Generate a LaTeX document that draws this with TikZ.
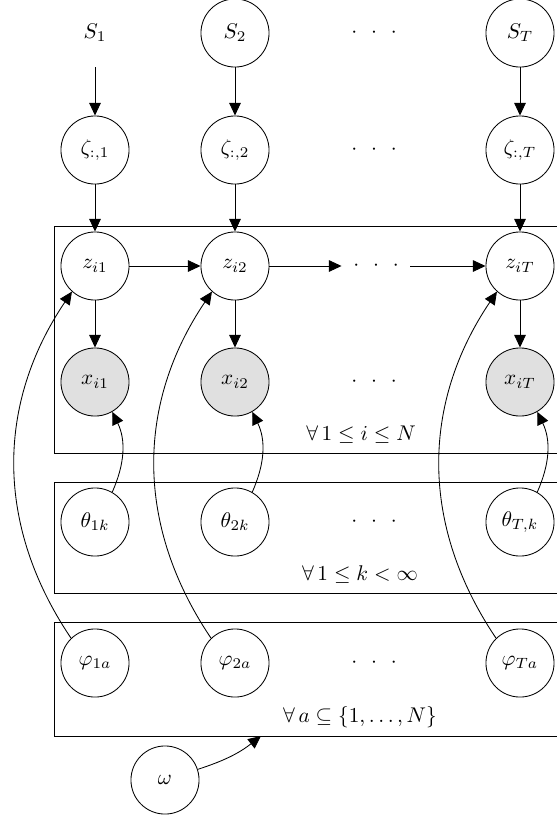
\documentclass[tikz,border=0pt]{standalone}
\usepackage{amsmath}
\usepackage{amssymb}
\usetikzlibrary{arrows.meta}
\definecolor{obsgray}{gray}{0.88}
\newcommand{\spreaddots}[0]{$\cdot\hspace{4.3pt}\cdot\hspace{4.3pt}\cdot$}

\begin{document}
\begin{tikzpicture}[x=0.47pt, y=-0.47pt,
        latent/.style={circle, draw, minimum size=32pt, inner sep=0pt},
        observed/.style={latent, fill=obsgray},
        hidden/.style={latent, draw=none},
        >={Triangle[length=6pt, width=5.5pt]},
    ]
    \useasboundingbox (0,0) rectangle (557,821);
    % Add plates
    \draw (54,226) rectangle (562,453);
    \draw (54,482) rectangle (562,593);
    \draw (54,622) rectangle (562,736);
    \node (ilabel) at (361,435) {$\forall\,1 \leq i \leq N$};
    \node (klabel) at (360,575) {$\forall\,1 \leq k < \infty$};
    \node (alabel) at (360,717) {$\forall\,a \subseteq \{1,\ldots,N\}$};
    \coordinate (atip) at (261,736);
    % Add nodes
    \node[hidden] (s1) at (95,33) {$S_1$};
    \node[latent] (s2) at (235,33) {$S_2$};
    \node[hidden] (sdots) at (374,33) {\spreaddots};
    \node[latent] (sT) at (520,33) {$S_T$};
    \node[latent] (zeta1) at (95,150) {$\zeta_{:,1}$};
    \node[latent] (zeta2) at (235,150) {$\zeta_{:,2}$};
    \node[hidden] (zetadots) at (374,150) {\spreaddots};
    \node[latent] (zetaT) at (520,150) {$\zeta_{:,T}$};
    \node[latent] (z1) at (95,266) {$z_{i1}$};
    \node[latent] (z2) at (235,266) {$z_{i2}$};
    \node[hidden] (zdots) at (376,266) {\spreaddots};
    \node[latent] (zT) at (520,266) {$z_{iT}$};
    \node[observed] (x1) at (95,382) {$x_{i1}$};
    \node[observed] (x2) at (235,382) {$x_{i2}$};
    \node[hidden] (xdots) at (374,382) {\spreaddots};
    \node[observed] (xT) at (520,382) {$x_{iT}$};
    \node[latent] (theta1) at (95,522) {$\theta_{1k}$};
    \node[latent] (theta2) at (235,522) {$\theta_{2k}$};
    \node[hidden] (thetadots) at (374,522) {\spreaddots};
    \node[latent] (thetaT) at (520,522) {$\theta_{T,k}$};
    \node[latent] (phi1) at (95,663) {$\varphi_{1a}$};
    \node[latent] (phi2) at (235,663) {$\varphi_{2a}$};
    \node[hidden] (phidots) at (374,663) {\spreaddots};
    \node[latent] (phiT) at (520,663) {$\varphi_{Ta}$};
    \node[latent] (omega) at (165,780) {$\omega$};
    % Add edges
    \draw[->] (s1) -- (zeta1);
    \draw[->] (s2) -- (zeta2);
    \draw[->] (sT) -- (zetaT);
    \draw[->] (zeta1) -- (z1);
    \draw[->] (zeta2) -- (z2);
    \draw[->] (zetaT) -- (zT);
    \draw[->] (z1) -- (z2);
    \draw[->] (z2) -- (zdots);
    \draw[->] (zdots) -- (zT);
    \draw[->] (z1) -- (x1);
    \draw[->] (z2) -- (x2);
    \draw[->] (zT) -- (xT);
    \draw[->] (theta1.60) to[out=66, in=-64] (x1.-60);
    \draw[->] (theta2.60) to[out=66, in=-64] (x2.-60);
    \draw[->] (thetaT.60) to[out=66, in=-64] (xT.-60);
    \draw[->] (phi1.134) to[out=124, in=-124] (z1.-132);
    \draw[->] (phi2.134) to[out=124, in=-124] (z2.-132);
    \draw[->] (phiT.134) to[out=124, in=-124] (zT.-132);
    \draw[->] (omega) to[out=18, in=-142] (atip);
\end{tikzpicture}
\end{document}
